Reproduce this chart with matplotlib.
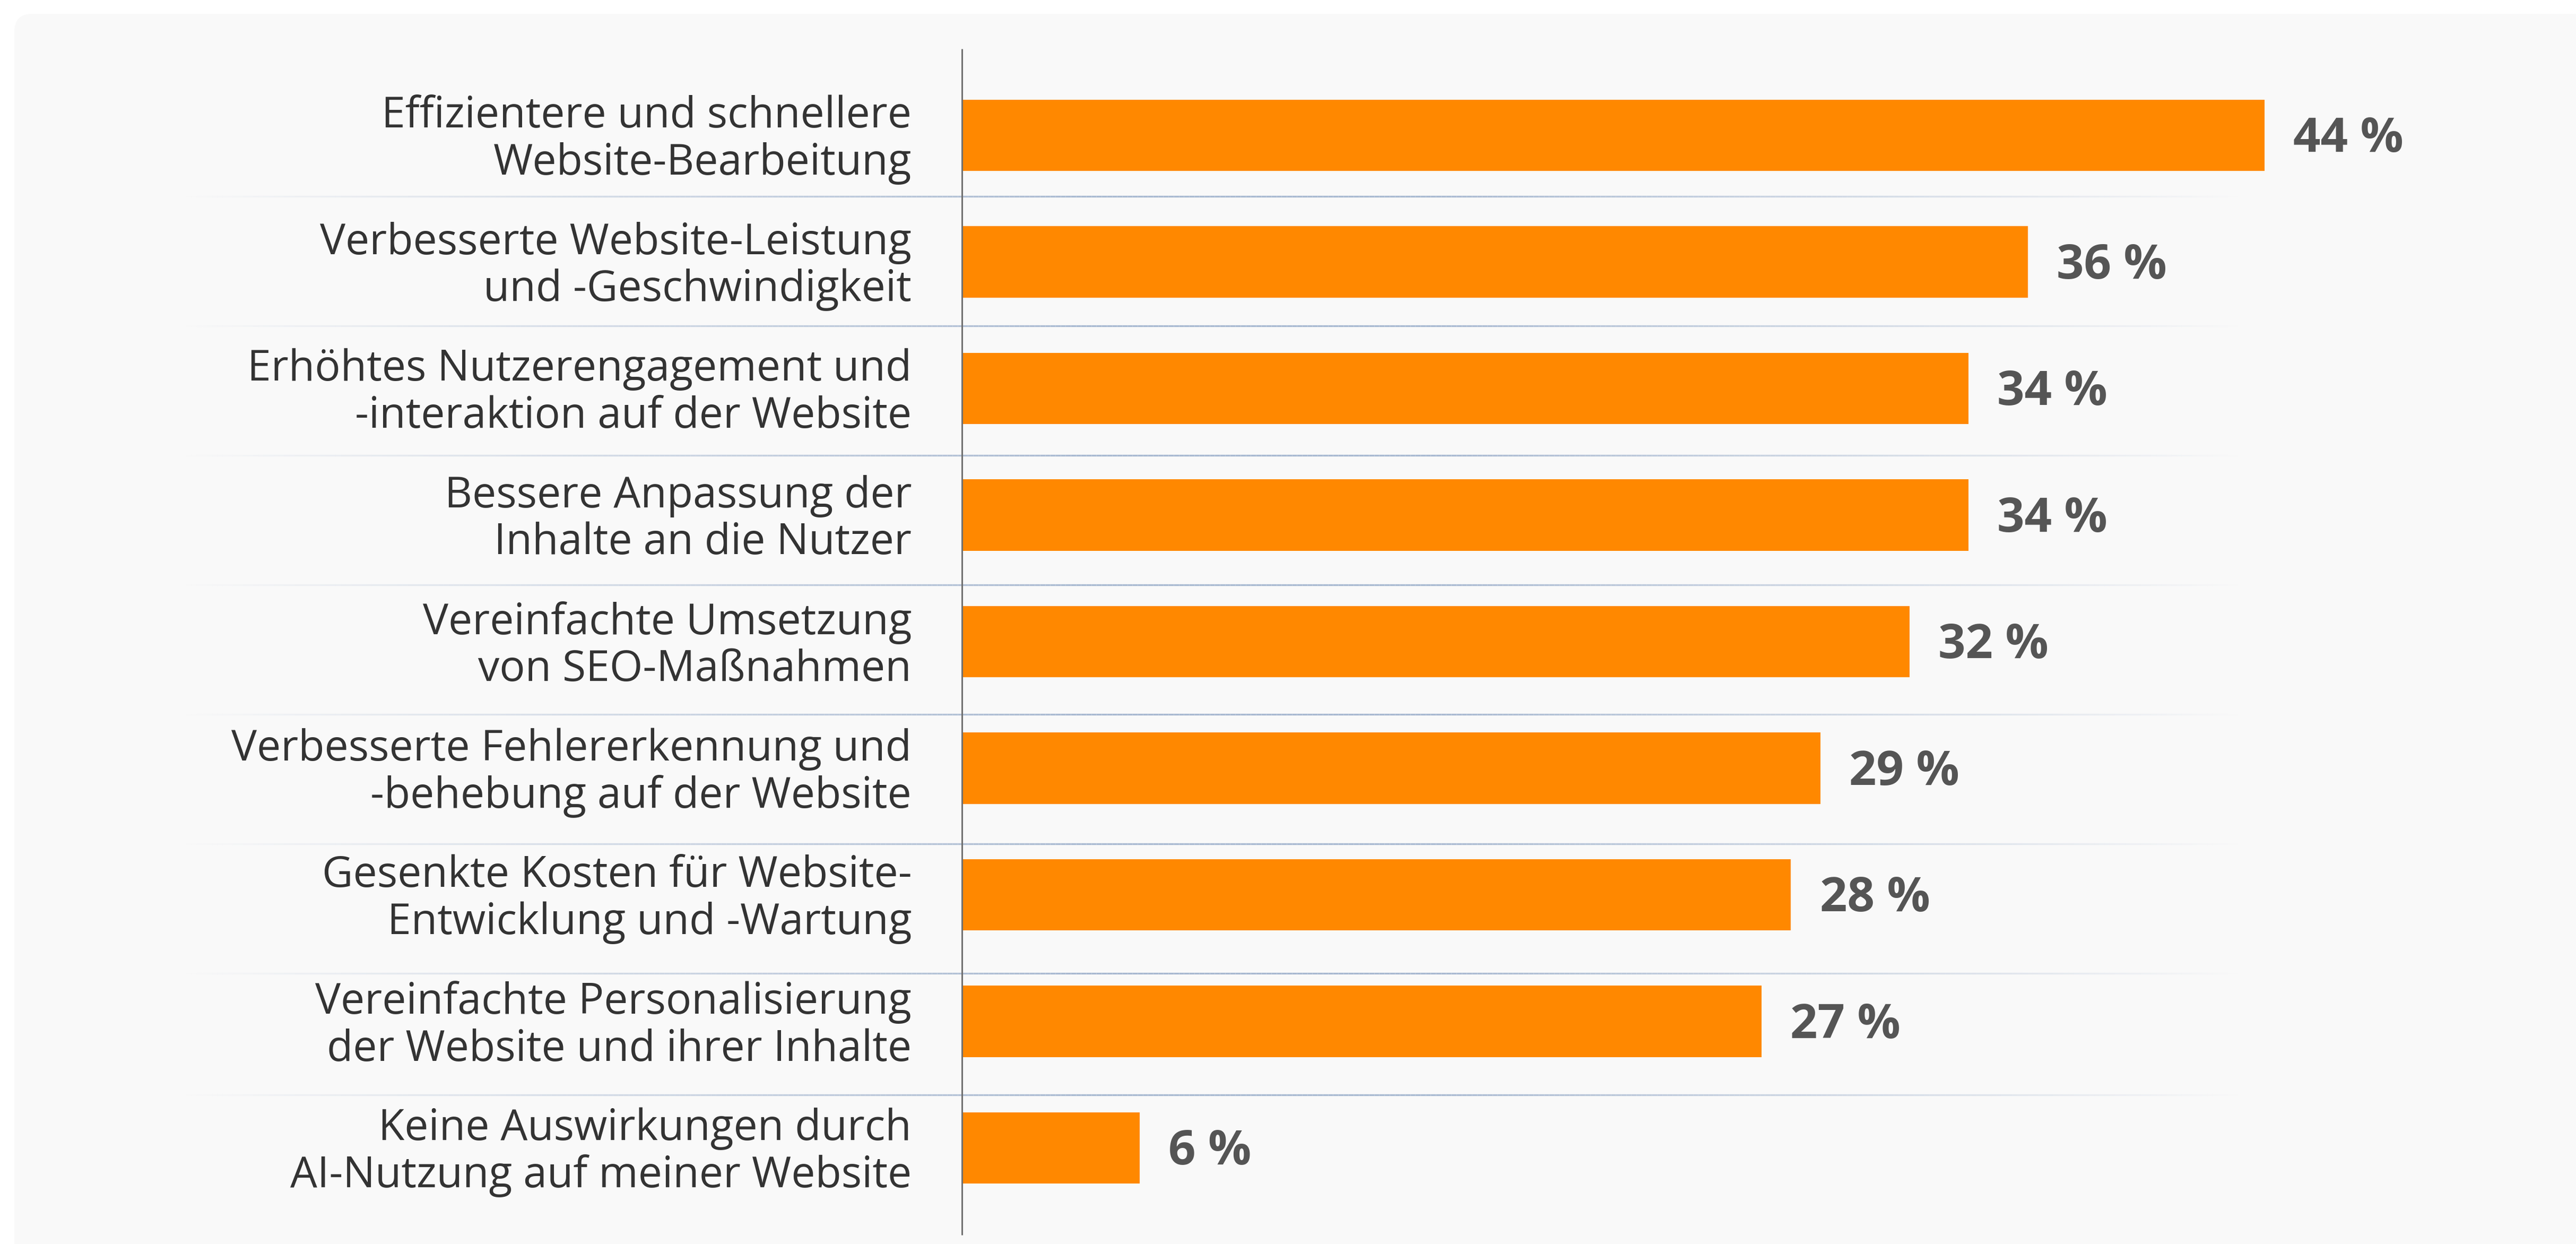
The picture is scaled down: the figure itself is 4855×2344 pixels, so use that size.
import numpy as np
import matplotlib
matplotlib.use("Agg")
import matplotlib.pyplot as plt
from matplotlib.patches import FancyBboxPatch, Rectangle
from matplotlib.collections import LineCollection

# ---------------- data ----------------
categories = [
    "Effizientere und schnellere\nWebsite-Bearbeitung",
    "Verbesserte Website-Leistung\nund -Geschwindigkeit",
    "Erhöhtes Nutzerengagement und\n-interaktion auf der Website",
    "Bessere Anpassung der\nInhalte an die Nutzer",
    "Vereinfachte Umsetzung\nvon SEO-Maßnahmen",
    "Verbesserte Fehlererkennung und\n-behebung auf der Website",
    "Gesenkte Kosten für Website-\nEntwicklung und -Wartung",
    "Vereinfachte Personalisierung\nder Website und ihrer Inhalte",
    "Keine Auswirkungen durch\nAI-Nutzung auf meiner Website",
]
values = [44, 36, 34, 34, 32, 29, 28, 27, 6]
value_labels = [f"{v} %" for v in values]

# ---------------- style ----------------
W, H, DPI = 4855, 2344, 100
BAR_COLOR = "#FF8800"
LABEL_COLOR = "#333333"
VALUE_COLOR = "#555555"
PANEL_COLOR = "#F9F9F9"
SEP_COLOR = (0.66, 0.725, 0.82)
AXIS_COLOR = "#707070"

plt.rcParams["font.family"] = ["Open Sans", "DejaVu Sans"]

fig = plt.figure(figsize=(W / DPI, H / DPI), dpi=DPI, facecolor=PANEL_COLOR)

# white outer margins (top and left) with a rounded panel corner
px0, py_top, radius = 27, 26, 34
fig.patches.append(Rectangle((0, 1 - py_top / H), 1, 0.1, transform=fig.transFigure,
                             facecolor="white", edgecolor="none", zorder=-20))
fig.patches.append(Rectangle((0, 0), px0 / W, 1, transform=fig.transFigure,
                             facecolor="white", edgecolor="none", zorder=-20))
fig.patches.append(Rectangle((0, 1 - 3 * py_top / H), 3 * px0 / W, 0.1,
                             transform=fig.transFigure,
                             facecolor="white", edgecolor="none", zorder=-20))
panel = FancyBboxPatch((px0 / W, -0.2), 1.2, 1.2 - py_top / H,
                       boxstyle=f"round,pad=0,rounding_size={radius / W}",
                       mutation_aspect=W / H,
                       transform=fig.transFigure,
                       facecolor=PANEL_COLOR, edgecolor="none", zorder=-10)
fig.patches.append(panel)

ax = fig.add_axes([0, 0, 1, 1])
ax.set_facecolor("none")
ax.set_zorder(1)
for s in ax.spines.values():
    s.set_visible(False)
ax.set_xticks([])
ax.set_yticks([])

px_per_unit = 55.8
x0_px = 1813
row_px = 238.5
y0_px = 255
ax.set_xlim(-x0_px / px_per_unit, (W - x0_px) / px_per_unit)
ax.set_ylim((H - y0_px) / row_px, -y0_px / row_px)

n = len(values)
ypos = np.arange(n)

# separators (gradient lines)
seps = [0.482 + 1.023 * k for k in range(n - 2)] + [7.58]
xs = np.linspace(-26.2, 43.1, 400)
alpha = np.interp(xs, [-26.2, 4.0, 16.0, 43.1], [0.0, 1.0, 1.0, 0.0])
for sy in seps:
    pts = np.array([xs, np.full_like(xs, sy)]).T.reshape(-1, 1, 2)
    segs = np.concatenate([pts[:-1], pts[1:]], axis=1)
    cols = [(*SEP_COLOR, a) for a in (alpha[:-1] + alpha[1:]) / 2]
    lc = LineCollection(segs, colors=cols, linewidths=2.4, zorder=1,
                        capstyle="butt")
    ax.add_collection(lc)

# bars
ax.barh(ypos, values, height=0.562, color=BAR_COLOR, zorder=2)

# vertical axis line
ax.plot([0, 0], [-0.683, 8.688], color=AXIS_COLOR, lw=2.2, zorder=3,
        solid_capstyle="butt")

# category labels
for y, lab in zip(ypos, categories):
    ax.text(-1.70, y + 0.035, lab, ha="right", va="center", fontsize=58,
            color=LABEL_COLOR, linespacing=1.13, zorder=4)

# value labels
for y, v, lab in zip(ypos, values, value_labels):
    ax.annotate(lab, (v, y), xytext=(39, -6), textcoords="offset points",
                ha="left", va="center", fontsize=65, fontweight="bold",
                color=VALUE_COLOR, zorder=4)

fig.savefig("out.png", dpi=DPI, facecolor=PANEL_COLOR)
